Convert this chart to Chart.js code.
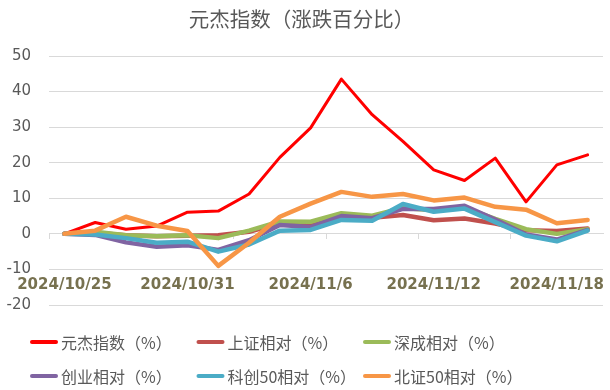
<!DOCTYPE html>
<html>
<head>
<meta charset="utf-8">
<script src="https://cdn.jsdelivr.net/npm/chart.js@4/dist/chart.umd.min.js"></script>
<style>
html,body{margin:0;padding:0;background:#fff;}
#wrap{width:610px;height:390px;}
</style>
</head>
<body>
<div id="wrap"><canvas id="c" width="610" height="390"></canvas></div>
<script>
const categories = ['2024/10/25','2024/10/28','2024/10/29','2024/10/30','2024/10/31','2024/11/1','2024/11/4','2024/11/5','2024/11/6','2024/11/7','2024/11/8','2024/11/11','2024/11/12','2024/11/13','2024/11/14','2024/11/15','2024/11/18','2024/11/19'];
const yuanjie   = [0, 3.2, 1.3, 2.2, 6.1, 6.4, 11.2, 21.5, 29.8, 43.5, 33.5, 26.0, 18.0, 15.0, 21.3, 9.0, 19.4, 22.2];
const shangzheng= [0, 0.3, -0.4, -0.7, -0.5, -0.4, 0.6, 3.0, 2.8, 5.3, 4.5, 5.3, 3.8, 4.3, 2.9, 1.0, 0.8, 1.5];
const shencheng = [0, 0.6, -0.4, -0.7, -0.4, -1.2, 0.9, 3.5, 3.4, 5.8, 5.1, 7.3, 6.6, 7.4, 4.2, 1.3, 0.0, 1.3];
const chuangye  = [0, -0.3, -2.4, -3.6, -3.2, -4.5, -1.8, 2.5, 1.9, 5.0, 4.4, 7.0, 7.0, 7.9, 4.0, -0.2, -1.6, 1.1];
const kechuang50= [0, -0.2, -1.2, -2.5, -2.2, -5.0, -3.0, 0.9, 1.1, 3.9, 3.7, 8.4, 6.2, 7.1, 3.3, -0.5, -2.1, 0.9];
const beizheng50= [0, 0.9, 4.8, 2.3, 0.8, -9.0, -2.5, 4.8, 8.5, 11.8, 10.4, 11.2, 9.4, 10.2, 7.6, 6.8, 3.0, 3.9];
const seriesNames = ['元杰指数（%）','上证相对（%）','深成相对（%）','创业相对（%）','科创50相对（%）','北证50相对（%）'];
const yTicks = [-20, -10, 0, 10, 20, 30, 40, 50];
const titleText = '元杰指数（涨跌百分比）';

const colors = ['#FF0000','#C0504D','#9BBB59','#8064A2','#4BACC6','#F79646'];
const widths = [3, 4.5, 4.5, 4.5, 4.5, 4.5];
const seriesData = [yuanjie, shangzheng, shencheng, chuangye, kechuang50, beizheng50];

const datasets = seriesData.map((d, i) => ({
  label: seriesNames[i],
  data: d,
  borderColor: colors[i],
  backgroundColor: colors[i],
  borderWidth: widths[i],
  pointRadius: 0,
  pointHoverRadius: 0,
  tension: 0,
  borderJoinStyle: 'round',
  borderCapStyle: 'round',
  fill: false,
  order: seriesData.length - i
}));

const CJK = '"Noto Sans CJK SC", "Noto Sans", sans-serif';

// Legend drawn in a fixed 3-column grid (like the reference)
const gridLegend = {
  id: 'gridLegend',
  afterDraw(chart) {
    const ctx = chart.ctx;
    ctx.save();
    ctx.font = '16px ' + CJK;
    ctx.textBaseline = 'middle';
    ctx.textAlign = 'left';
    chart.data.datasets.forEach((ds, i) => {
      const col = i % 3, row = Math.floor(i / 3);
      const x = 30 + col * 166.5;
      const y = 342 + row * 34;
      ctx.strokeStyle = ds.borderColor;
      ctx.lineWidth = 4;
      ctx.lineCap = 'round';
      ctx.beginPath();
      ctx.moveTo(x + 2, y);
      ctx.lineTo(x + 26, y);
      ctx.stroke();
      ctx.fillStyle = '#595959';
      ctx.fillText(ds.label, x + 31, y + 1);
    });
    ctx.restore();
  }
};

new Chart(document.getElementById('c'), {
  type: 'line',
  data: { labels: categories, datasets },
  plugins: [gridLegend],
  options: {
    responsive: false,
    animation: false,
    devicePixelRatio: 1,
    layout: { padding: { left: 0, right: 7, top: 0, bottom: 85 } },
    plugins: {
      tooltip: { enabled: false },
      legend: { display: false },
      title: {
        display: true,
        text: titleText,
        color: '#595959',
        font: { family: CJK, size: 20.5, weight: 'normal', lineHeight: 1.2 },
        padding: { top: 7, bottom: 24.4 }
      }
    },
    scales: {
      x: {
        type: 'category',
        position: { y: 0 },
        offset: true,
        afterFit: (s) => { s.paddingLeft = 0; s.paddingRight = 0; },
        grid: {
          offset: true,
          drawOnChartArea: false,
          drawTicks: true,
          tickLength: 5,
          tickColor: (ctx) => (ctx.index % 3 === 0 ? '#D9D9D9' : 'rgba(0,0,0,0)'),
          lineWidth: 1
        },
        border: { display: true, color: '#D9D9D9', width: 1 },
        ticks: {
          autoSkip: false,
          maxRotation: 0,
          minRotation: 0,
          padding: 37,
          color: '#77714F',
          font: { family: '"DejaVu Sans", sans-serif', size: 15, weight: 'bold' },
          callback: function (val, i) { return i % 4 === 0 ? categories[i] : ''; }
        }
      },
      y: {
        min: -20,
        max: 50,
        afterFit: (scale) => { scale.width = 49; },
        afterBuildTicks: (scale) => { scale.ticks = yTicks.map(v => ({ value: v })); },
        grid: { color: '#D9D9D9', lineWidth: 1, drawTicks: false },
        border: { display: false },
        ticks: {
          padding: 18,
          color: '#595959',
          font: { family: '"DejaVu Sans", sans-serif', size: 15 },
          callback: (v) => String(v)
        }
      }
    }
  }
});
</script>
</body>
</html>
